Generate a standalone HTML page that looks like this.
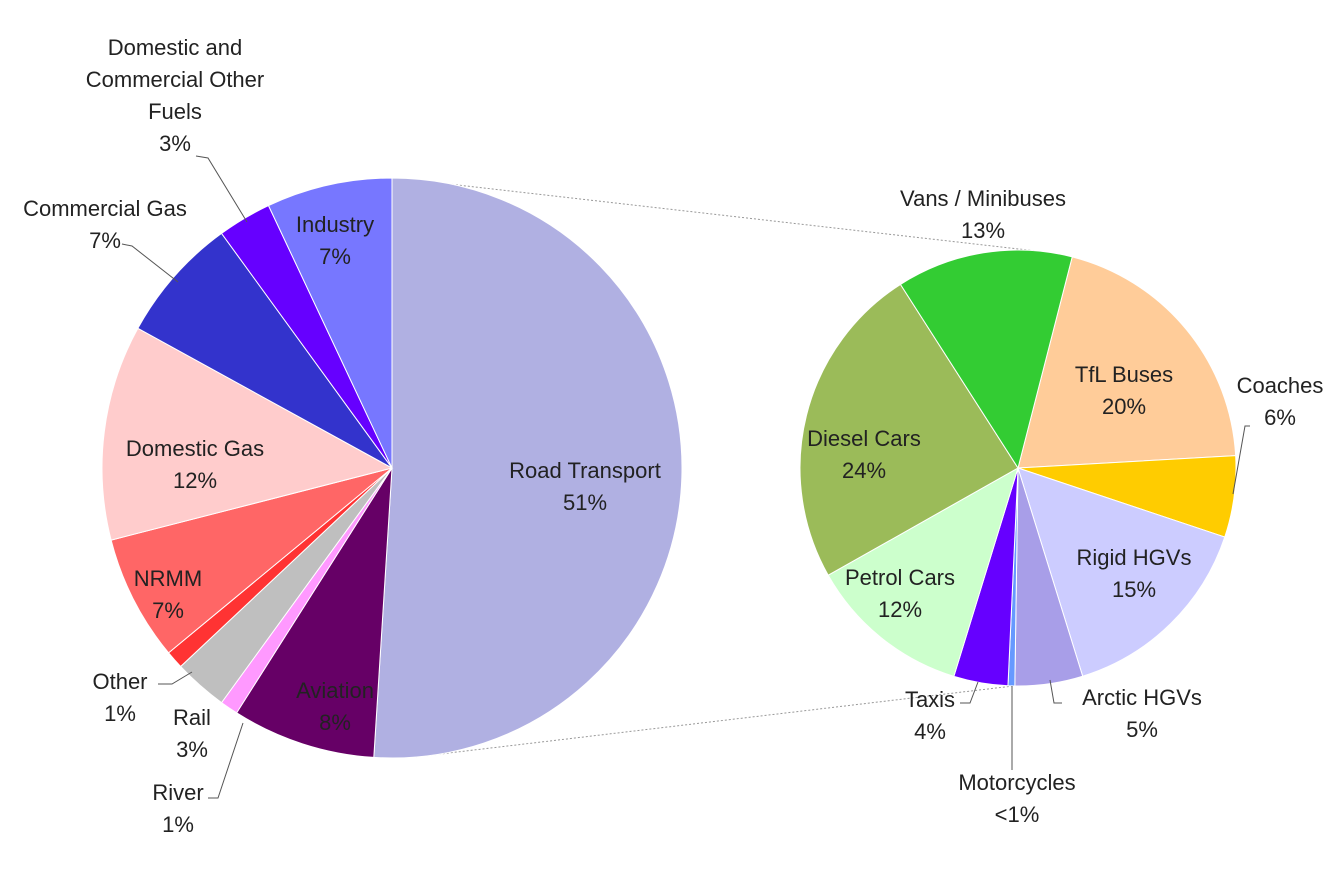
<!DOCTYPE html>
<html><head><meta charset="utf-8"><style>
html,body{margin:0;padding:0;background:#fff;}
svg text{font-family:"Liberation Sans",sans-serif;font-size:22px;fill:#222;text-anchor:middle;}
</style></head><body>
<svg id="c" width="1339" height="874" xmlns="http://www.w3.org/2000/svg">
<g id="lines">
<line x1="440" y1="183" x2="1045" y2="252" stroke="#999" stroke-dasharray="2,2"/>
<line x1="415" y1="757" x2="1013" y2="686" stroke="#999" stroke-dasharray="2,2"/>
</g>
<g id="left"></g><g id="right"></g><g id="labels"></g>
</svg>
<script>
const leftCats=["Road Transport","Aviation","River","Rail","Other","NRMM","Domestic Gas","Commercial Gas","Domestic and Commercial Other Fuels","Industry"];
const leftVals=[51,8,1,3,1,7,12,7,3,7];
const leftColors=["#b0b0e2","#660066","#ff99ff","#bfbfbf","#ff3333","#ff6666","#ffcccc","#3333cc","#6600ff","#7777ff"];
const rightCats=["TfL Buses","Coaches","Rigid HGVs","Arctic HGVs","Motorcycles","Taxis","Petrol Cars","Diesel Cars","Vans / Minibuses"];
const rightVals=[20,6,15,5,0.5,4,12,24,13];
const rightColors=["#ffcc99","#ffcc00","#ccccff","#a89ee8","#6699ff","#6600ff","#ccffcc","#9bbb59","#33cc33"];
const NS="http://www.w3.org/2000/svg";
function pie(g,cx,cy,r,vals,cols,cats,start,prefix){
  const tot=vals.reduce((a,b)=>a+b,0);let a=start;
  vals.forEach((v,i)=>{
    const a2=a+v/tot*2*Math.PI;
    const x1=cx+r*Math.sin(a),y1=cy-r*Math.cos(a),x2=cx+r*Math.sin(a2),y2=cy-r*Math.cos(a2);
    const p=document.createElementNS(NS,"path");
    p.setAttribute("d",`M${cx},${cy}L${x1},${y1}A${r},${r} 0 ${a2-a>Math.PI?1:0} 1 ${x2},${y2}Z`);
    p.setAttribute("fill",cols[i]);p.setAttribute("stroke","#fff");p.setAttribute("stroke-width","1");
    
    
    g.appendChild(p);a=a2;
  });
}
pie(document.getElementById("left"),392,468,290,leftVals,leftColors,leftCats,0,"left");
pie(document.getElementById("right"),1018,468,218,rightVals,rightColors,rightCats,14.4*Math.PI/180,"right");
const labels=[
 ["Road Transport|51%",585,478],["Aviation|8%",335,698],["Industry|7%",335,232],
 ["Domestic Gas|12%",195,456],["NRMM|7%",168,586],["Domestic and|Commercial Other|Fuels|3%",175,55],
 ["Commercial Gas|7%",105,216],["Other|1%",120,689],["Rail|3%",192,725],["River|1%",178,800],
 ["Vans / Minibuses|13%",983,206],["TfL Buses|20%",1124,382],["Coaches|6%",1280,393],
 ["Diesel Cars|24%",864,446],["Rigid HGVs|15%",1134,565],["Petrol Cars|12%",900,585],
 ["Taxis|4%",930,707],["Arctic HGVs|5%",1142,705],["Motorcycles|<1%",1017,790]
];
const L=document.getElementById("labels");
labels.forEach(([t,x,y])=>{
  const tx=document.createElementNS(NS,"text");
  
  
  t.split('|').forEach((s,i)=>{const ts=document.createElementNS(NS,"tspan");ts.setAttribute("x",x);ts.setAttribute("y",y+i*32);ts.textContent=s;tx.appendChild(ts);});
  L.appendChild(tx);
});
const leaders=[[196,156,208,158,247,222],[122,244,132,246,178,282],[158,684,172,684,192,672],[208,798,218,798,243,723],
 [1250,426,1245,426,1233,494],[960,703,970,703,978,682],[1062,703,1054,703,1050,680],[1012,770,1012,770,1012,686]];
leaders.forEach(p=>{const pl=document.createElementNS(NS,"polyline");pl.setAttribute("points",p.join(","));pl.setAttribute("fill","none");pl.setAttribute("stroke","#555");
 
 
 L.appendChild(pl);});
</script>
</body></html>
